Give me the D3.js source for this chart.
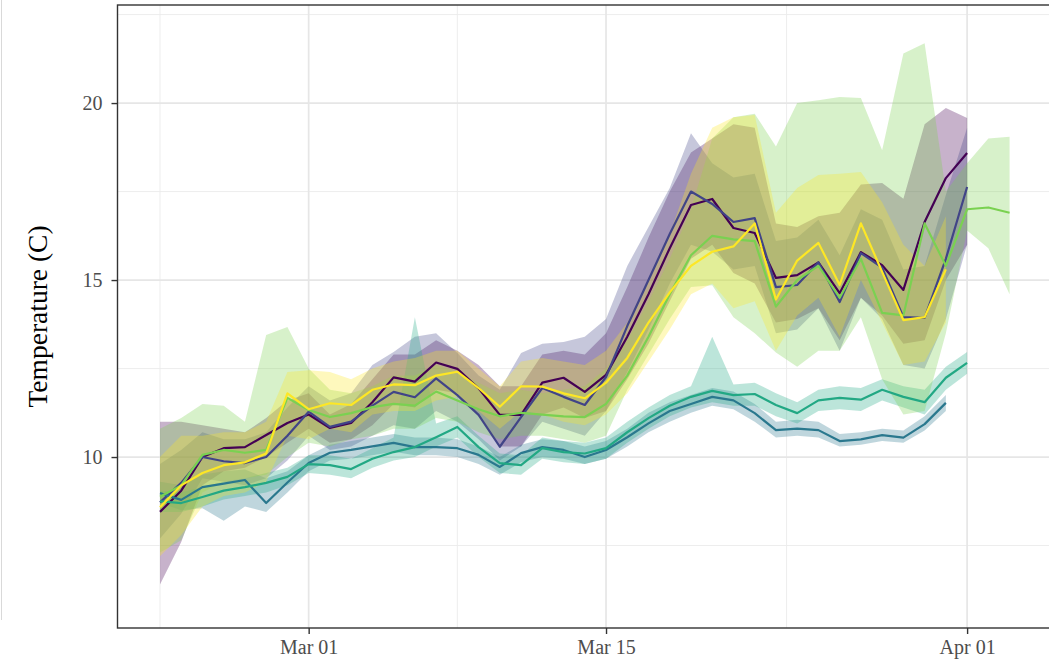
<!DOCTYPE html>
<html>
<head>
<meta charset="utf-8">
<script src="https://cdn.jsdelivr.net/npm/d3@7"></script>
<style>
  html, body { margin: 0; padding: 0; background: #fff; }
  svg { display: block; }
</style>
</head>
<body>
<svg id="chart" width="1049" height="663"></svg>
<script>
// ---------- DATA ----------
const firstDay = "2021-02-22";
const lastDay = "2021-04-03";
const xTickLabels = ["2021-03-01", "2021-03-15", "2021-04-01"];
const xMinorBreaks = ["2021-02-22", "2021-03-08", "2021-03-23T12:00:00Z"];
const yTicks = [10, 15, 20];
const yMinorBreaks = [7.5, 12.5, 17.5, 22.5];
const seriesColors = ["#440154", "#414487", "#2A788E", "#22A884", "#7AD151", "#FDE725"];
const yTitle = "Temperature (C)";

// series 1 (dark purple)
const s1Mean = [8.45, 9.05, 10.0, 10.25, 10.28, 10.62, 10.96, 11.2, 10.82, 10.96, 11.55, 12.25, 12.13, 12.67, 12.49, 11.94, 11.19, 11.19, 12.1, 12.24, 11.84, 12.32, 13.4, 14.6, 15.9, 17.12, 17.29, 16.47, 16.33, 15.06, 15.14, 15.5, 14.63, 15.79, 15.42, 14.72, 16.64, 17.88, 18.59];
const s1Low  = [6.4, 7.6, 9.2, 9.6, 9.7, 10.0, 10.4, 10.8, 10.4, 10.5, 10.9, 11.5, 11.4, 11.9, 11.8, 11.2, 10.3, 10.3, 11.2, 11.4, 11.1, 11.3, 12.2, 13.2, 14.4, 15.6, 16.0, 15.2, 14.9, 13.8, 13.9, 14.2, 13.3, 14.5, 14.0, 13.2, 13.3, 15.0, 16.0];
const s1High = [11.0, 11.0, 10.9, 10.8, 10.7, 11.1, 11.6, 11.8, 11.2, 11.5, 12.2, 12.9, 12.9, 13.3, 13.0, 12.6, 12.0, 12.0, 12.9, 13.0, 12.9, 13.5, 14.8, 16.2, 17.5, 18.6, 19.0, 19.4, 19.3, 16.6, 16.5, 16.8, 16.9, 17.7, 17.74, 17.3, 19.4, 19.86, 19.58];

// series 2 (blue-purple)
const s2Mean = [8.72, 9.27, 10.0, 9.88, 9.83, 10.0, 10.6, 11.28, 10.85, 11.0, 11.45, 11.84, 11.69, 12.22, 11.75, 11.19, 10.29, 11.13, 11.95, 11.7, 11.47, 12.26, 13.7, 15.0, 16.3, 17.5, 17.15, 16.64, 16.75, 14.8, 14.86, 15.5, 14.38, 15.76, 15.35, 13.95, 13.93, 15.6, 17.63];
const s2Low  = [7.7, 8.4, 9.4, 9.3, 9.2, 9.4, 9.9, 10.6, 10.2, 10.3, 10.6, 10.9, 10.8, 11.3, 11.0, 10.5, 9.9, 10.3, 11.0, 10.8, 10.6, 11.3, 12.4, 13.6, 14.9, 16.0, 15.8, 15.3, 15.4, 13.5, 13.6, 14.2, 13.0, 14.5, 13.9, 12.6, 12.5, 13.9, 16.0];
const s2High = [9.8, 10.2, 10.7, 10.5, 10.5, 10.7, 11.4, 12.0, 11.6, 11.8, 12.6, 12.97, 13.4, 13.5, 12.94, 12.3, 11.9, 12.94, 13.2, 13.25, 13.4, 13.9, 15.4, 16.5, 17.6, 19.15, 18.3, 17.9, 18.0, 16.1, 16.2, 16.7, 15.7, 17.0, 16.7, 15.3, 15.4, 17.4, 19.3];

// series 3 (blue-teal)
const s3Mean = [8.98, 8.79, 9.15, 9.25, 9.35, 8.7, 9.28, 9.83, 10.12, 10.2, 10.3, 10.4, 10.28, 10.28, 10.25, 10.06, 9.72, 10.11, 10.28, 10.2, 10.0, 10.2, 10.56, 10.95, 11.3, 11.5, 11.7, 11.6, 11.24, 10.76, 10.8, 10.76, 10.45, 10.5, 10.62, 10.55, 10.93, 11.53];
const s3Low  = [8.7, 8.5, 8.55, 8.2, 8.6, 8.45, 9.0, 9.6, 9.9, 9.95, 10.05, 10.15, 10.05, 10.05, 10.0, 9.8, 9.5, 9.85, 10.0, 9.95, 9.8, 9.95, 10.3, 10.7, 11.0, 11.25, 11.45, 11.35, 11.0, 10.55, 10.6, 10.55, 10.3, 10.35, 10.45, 10.4, 10.75, 11.3];
const s3High = [9.3, 9.2, 9.5, 9.6, 9.65, 9.4, 9.6, 10.05, 10.35, 10.45, 10.55, 10.65, 10.55, 10.55, 10.5, 10.3, 10.0, 10.35, 10.5, 10.45, 10.3, 10.45, 10.8, 11.25, 11.55, 11.75, 11.95, 11.85, 11.5, 11.0, 11.05, 11.0, 10.65, 10.7, 10.8, 10.75, 11.15, 11.75];

// series 4 (green-teal)
const s4Mean = [8.75, 8.7, 8.87, 9.05, 9.15, 9.27, 9.44, 9.8, 9.77, 9.66, 9.95, 10.14, 10.28, 10.56, 10.85, 10.28, 9.83, 9.77, 10.25, 10.14, 10.1, 10.25, 10.7, 11.1, 11.45, 11.7, 11.87, 11.75, 11.78, 11.47, 11.24, 11.6, 11.67, 11.62, 11.9, 11.7, 11.55, 12.24, 12.66];
const s4Low  = [8.45, 8.45, 8.6, 8.8, 8.9, 9.0, 9.2, 9.55, 9.5, 9.4, 9.7, 9.9, 10.0, 10.3, 10.55, 10.0, 9.55, 9.5, 9.95, 9.85, 9.8, 9.95, 10.4, 10.8, 11.15, 11.4, 11.55, 11.45, 11.45, 11.15, 10.95, 11.3, 11.35, 11.3, 11.6, 11.4, 11.2, 11.9, 12.35];
const s4High = [9.05, 9.0, 9.15, 9.3, 9.4, 9.55, 9.7, 10.05, 10.05, 9.95, 10.25, 10.55, 13.95, 10.95, 11.15, 10.6, 10.1, 10.05, 10.55, 10.45, 10.4, 10.55, 11.0, 11.4, 11.75, 12.0, 13.4, 12.05, 12.1, 11.8, 11.55, 11.9, 12.0, 11.95, 12.2, 12.0, 11.9, 12.55, 12.97];

// series 5 (green)
const s5Mean = [8.88, 9.2, 10.06, 10.2, 10.12, 10.2, 11.67, 11.33, 11.13, 11.24, 11.41, 11.5, 11.45, 11.85, 11.6, 11.35, 11.15, 11.25, 11.2, 11.15, 11.13, 11.5, 12.3, 13.4, 14.6, 15.7, 16.25, 16.15, 16.1, 14.25, 15.0, 15.4, 14.5, 15.6, 14.07, 14.0, 16.6, 15.4, 17.0, 17.05, 16.9];
const s5Low  = [7.3, 7.65, 9.0, 9.3, 9.4, 9.5, 10.0, 10.4, 10.3, 10.5, 10.6, 10.8, 10.8, 11.1, 11.0, 10.7, 10.5, 10.6, 10.6, 10.5, 10.4, 10.6, 11.9, 12.9, 13.9, 14.8, 14.85, 13.95, 13.5, 12.95, 12.55, 13.0, 13.0, 13.95, 12.2, 11.2, 11.3, 13.5, 16.4, 15.9, 14.6];
const s5High = [10.8, 11.1, 11.5, 11.45, 11.0, 13.45, 13.67, 12.5, 11.9, 11.8, 12.0, 12.3, 12.3, 12.6, 12.4, 12.1, 11.8, 11.9, 11.8, 11.9, 12.0, 12.5, 13.3, 14.4, 15.6, 17.0, 19.0, 19.6, 19.7, 18.77, 20.0, 20.08, 20.17, 20.14, 18.67, 21.4, 21.69, 17.5, 18.3, 19.0, 19.05];

// series 6 (yellow)
const s6Mean = [8.58, 9.2, 9.55, 9.77, 9.85, 10.1, 11.8, 11.35, 11.52, 11.47, 11.9, 12.05, 12.03, 12.3, 12.41, 11.95, 11.42, 12.0, 11.99, 11.8, 11.66, 12.1, 12.8, 13.8, 14.65, 15.4, 15.8, 15.95, 16.6, 14.45, 15.55, 16.05, 14.86, 16.6, 15.23, 13.87, 13.95, 15.3];
const s6Low  = [7.2, 7.8, 8.6, 8.9, 9.0, 9.3, 10.6, 10.5, 10.8, 10.7, 11.2, 11.3, 11.3, 11.6, 11.7, 11.3, 10.8, 11.3, 11.2, 11.0, 10.9, 11.2, 11.8, 12.7, 13.6, 14.6, 14.9, 14.2, 14.4, 13.0, 14.0, 14.5, 13.4, 15.0, 13.8, 12.6, 12.7, 13.8];
const s6High = [10.0, 10.6, 10.6, 10.7, 10.7, 11.0, 12.4, 12.45, 12.4, 12.2, 12.5, 12.7, 12.8, 13.0, 13.0, 12.5, 12.0, 12.7, 12.8, 12.7, 12.6, 13.0, 13.8, 15.0, 16.3, 18.0, 19.3, 19.6, 19.66, 16.9, 17.6, 17.97, 18.0, 18.05, 17.2, 16.0, 15.4, 16.8];

// ---------- BUILD ----------
const parse = s => new Date(s.length > 10 ? s : s + "T00:00:00Z");
const days = d3.utcDay.range(parse(firstDay), d3.utcDay.offset(parse(lastDay), 1));
const series = [
  [s1Mean, s1Low, s1High], [s2Mean, s2Low, s2High], [s3Mean, s3Low, s3High],
  [s4Mean, s4Low, s4High], [s5Mean, s5Low, s5High], [s6Mean, s6Low, s6High]
].map((arr, k) => ({
  color: seriesColors[k],
  points: arr[0].map((v, i) => ({ date: days[i], mean: v, lo: arr[1][i], hi: arr[2][i] }))
}));

const svg = d3.select("#chart");
const W = 1049, H = 663;
const panel = { left: 117.5, top: 5, bottom: 628 };
const dataSpanDays = d3.utcDay.count(days[0], days[days.length - 1]);
const padDays = dataSpanDays * 0.05;
const xDomain = [new Date(+days[0] - padDays * 864e5), new Date(+days[days.length - 1] + padDays * 864e5)];
const pxPerDay = 21.24;
panel.right = panel.left + pxPerDay * (dataSpanDays + 2 * padDays);

const x = d3.scaleUtc().domain(xDomain).range([panel.left, panel.right]);
const y = d3.scaleLinear().domain([5.17, 22.77]).range([panel.bottom, panel.top]);

svg.append("rect").attr("width", W).attr("height", H).attr("fill", "#fff");

// faint edge line at far left of the picture
svg.append("line").attr("x1", 1.5).attr("x2", 1.5).attr("y1", 0).attr("y2", 620)
  .attr("stroke", "#d9d9d9").attr("stroke-width", 1);

svg.append("defs").append("clipPath").attr("id", "clip")
  .append("rect").attr("x", panel.left).attr("y", panel.top)
  .attr("width", panel.right - panel.left).attr("height", panel.bottom - panel.top);

const grid = svg.append("g");
// minor grid
grid.selectAll(".ym").data(yMinorBreaks).join("line")
  .attr("x1", panel.left).attr("x2", panel.right)
  .attr("y1", d => y(d)).attr("y2", d => y(d))
  .attr("stroke", "#ebebeb").attr("stroke-width", 0.9);
grid.selectAll(".xm").data(xMinorBreaks.map(parse)).join("line")
  .attr("y1", panel.top).attr("y2", panel.bottom)
  .attr("x1", d => x(d)).attr("x2", d => x(d))
  .attr("stroke", "#ebebeb").attr("stroke-width", 0.9);
// major grid
grid.selectAll(".yM").data(yTicks).join("line")
  .attr("x1", panel.left).attr("x2", panel.right)
  .attr("y1", d => y(d)).attr("y2", d => y(d))
  .attr("stroke", "#e6e6e6").attr("stroke-width", 1.7);
grid.selectAll(".xM").data(xTickLabels.map(parse)).join("line")
  .attr("y1", panel.top).attr("y2", panel.bottom)
  .attr("x1", d => x(d)).attr("x2", d => x(d))
  .attr("stroke", "#e6e6e6").attr("stroke-width", 1.7);

const plot = svg.append("g").attr("clip-path", "url(#clip)");
const area = d3.area().x(d => x(d.date)).y0(d => y(d.lo)).y1(d => y(d.hi));
const line = d3.line().x(d => x(d.date)).y(d => y(d.mean));

plot.selectAll(".ribbon").data(series).join("path")
  .attr("d", s => area(s.points))
  .attr("fill", s => s.color).attr("fill-opacity", 0.3).attr("stroke", "none");

plot.selectAll(".ln").data(series).join("path")
  .attr("d", s => line(s.points))
  .attr("fill", "none").attr("stroke", s => s.color)
  .attr("stroke-width", 2.2).attr("stroke-linejoin", "round");

// panel border
svg.append("rect").attr("x", panel.left).attr("y", panel.top)
  .attr("width", panel.right - panel.left).attr("height", panel.bottom - panel.top)
  .attr("fill", "none").attr("stroke", "#333").attr("stroke-width", 1.4);

const fontFam = "'Liberation Serif', 'Times New Roman', 'DejaVu Serif', serif";

const xAxis = d3.axisBottom(x).tickValues(xTickLabels.map(parse))
  .tickFormat(d3.utcFormat("%b %d")).tickSize(6).tickPadding(6);
const gx = svg.append("g").attr("transform", `translate(0,${panel.bottom})`).call(xAxis);
gx.select(".domain").remove();
gx.selectAll(".tick line").attr("stroke", "#333").attr("stroke-width", 1.4);
gx.selectAll(".tick text").attr("fill", "#4d4d4d").style("font-family", fontFam).style("font-size", "20px");

const yAxis = d3.axisLeft(y).tickValues(yTicks).tickSize(6).tickPadding(9);
const gy = svg.append("g").attr("transform", `translate(${panel.left},0)`).call(yAxis);
gy.select(".domain").remove();
gy.selectAll(".tick line").attr("stroke", "#333").attr("stroke-width", 1.4);
gy.selectAll(".tick text").attr("fill", "#4d4d4d").style("font-family", fontFam).style("font-size", "20px");

svg.append("text")
  .attr("transform", `translate(47,${(panel.top + panel.bottom) / 2}) rotate(-90)`)
  .attr("text-anchor", "middle")
  .style("font-family", fontFam).style("font-size", "27.5px").attr("fill", "#000")
  .text(yTitle);
</script>
</body>
</html>
